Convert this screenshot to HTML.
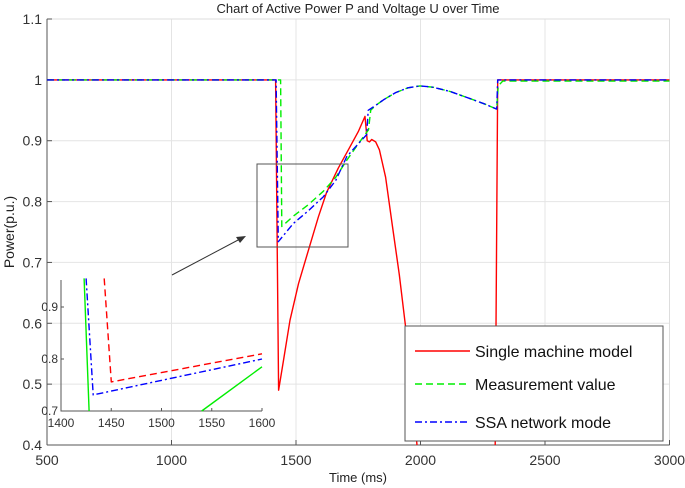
<!DOCTYPE html>
<html><head><meta charset="utf-8"><style>
body{margin:0;background:#fff;}
svg{display:block;font-family:"Liberation Sans",sans-serif;}
</style></head><body>
<svg id="c" width="685" height="488"></svg>
<script>
const xTicks=[500,1000,1500,2000,2500,3000];
const yTicks=[0.4,0.5,0.6,0.7,0.8,0.9,1,1.1];
const redT=[500,1418,1430,1450,1476,1510,1550,1590,1623,1670,1717,1750,1777,1786,1795,1804,1820,1835,1860,1887,1915,1940,1965,1986,1990,2298,2300,2310,3000];
const redV=[1,1,0.49,0.54,0.605,0.665,0.72,0.775,0.815,0.855,0.89,0.915,0.94,0.90,0.898,0.902,0.898,0.885,0.84,0.76,0.68,0.594,0.49,0.40,0.35,0.35,0.4,1,1];
const greenT=[500,1438,1443,1489,1550,1610,1660,1704,1750,1791,1800,1820,1851,1900,1950,1998,2050,2118,2200,2260,2306,2312,2330,3000];
const greenV=[1,1,0.759,0.776,0.795,0.817,0.84,0.868,0.895,0.918,0.95,0.958,0.967,0.979,0.987,0.99,0.988,0.981,0.969,0.96,0.952,0.99,0.998,0.998];
const blueT=[500,1420,1429,1489,1550,1610,1660,1704,1750,1784,1790,1820,1851,1900,1950,1998,2050,2118,2200,2260,2306,2310,3000];
const blueV=[1,1,0.734,0.764,0.785,0.808,0.835,0.874,0.895,0.91,0.95,0.958,0.967,0.979,0.987,0.99,0.988,0.981,0.969,0.96,0.952,1,1];
const insetXTicks=[1400,1450,1500,1550,1600];
const insetYTicks=[0.7,0.8,0.9];
const insRedT=[1443,1450,1600], insRedV=[0.955,0.756,0.81];
const insBlueT=[1425,1432,1600], insBlueV=[0.955,0.731,0.80];
const insGreenT1=[1423,1428], insGreenV1=[0.955,0.70];
const insGreenT2=[1540,1600], insGreenV2=[0.70,0.785];

const svg=document.getElementById('c');
const NS='http://www.w3.org/2000/svg';
function mk(tag,a,parent){const e=document.createElementNS(NS,tag);for(const k in a)e.setAttribute(k,a[k]);(parent||svg).appendChild(e);return e;}
const L=47,R=669.5,T=19,B=445;
const X=t=>L+(t-500)/2500*(R-L);
const Y=v=>B-(v-0.4)/0.7*(B-T);
xTicks.forEach(t=>{const g=mk('line',{x1:X(t),x2:X(t),y1:T,y2:B,stroke:'#e4e4e4','stroke-width':1});

});
yTicks.forEach(v=>{const g=mk('line',{x1:L,x2:R,y1:Y(v),y2:Y(v),stroke:'#e4e4e4','stroke-width':1});

});
const frame=mk('rect',{x:L,y:T,width:R-L,height:B-T,fill:'none',stroke:'#ddd'});


const xa=mk('line',{x1:L,x2:R,y1:B,y2:B,stroke:'#555'});


const ya=mk('line',{x1:L,x2:L,y1:T,y2:B,stroke:'#555'});


xTicks.forEach(t=>{const tx=mk('text',{x:X(t),y:B+20,'text-anchor':'middle','font-size':14,fill:'#333'});tx.textContent=t;


mk('line',{x1:X(t),x2:X(t),y1:B,y2:B-5,stroke:'#555'});});
yTicks.forEach(v=>{const tx=mk('text',{x:L-5,y:Y(v)+5,'text-anchor':'end','font-size':14,fill:'#333'});tx.textContent=v;


mk('line',{x1:L,x2:L+5,y1:Y(v),y2:Y(v),stroke:'#555'});});
function line(ts,vs,xf,yf,stroke,dash,name){const p=ts.map((t,i)=>xf(t).toFixed(1)+','+yf(vs[i]).toFixed(1)).join(' ');
const e=mk('polyline',{points:p,fill:'none',stroke:stroke,'stroke-width':1.4,'stroke-dasharray':dash||'none','stroke-linejoin':'round'});

return e;}
const clip=mk('clipPath',{id:'pc'});mk('rect',{x:L,y:T,width:R-L,height:B-T},clip);
const g=mk('g',{'clip-path':'url(#pc)'});
function lineG(ts,vs,stroke,dash,name){const e=line(ts,vs,X,Y,stroke,dash,name);g.appendChild(e);}
lineG(redT,redV,'#f00','','series-single-machine');
lineG(greenT,greenV,'#0e0','7,4','series-measurement');
lineG(blueT,blueV,'#00f','7,3,2,3','series-ssa-network');
const zr=mk('rect',{x:257,y:164,width:91,height:83,fill:'none',stroke:'#555'});


const ar=mk('line',{x1:172,y1:275,x2:240,y2:239,stroke:'#333'});


mk('polygon',{points:'246,236 236,237 240,243',fill:'#333'});
const IL=61,IR=262,IT=280,IB=411;
const IX=t=>IL+(t-1400)/200*(IR-IL);
const IY=v=>IB-(v-0.7)/0.1*52;
const ia=mk('polyline',{points:`${IL},${IT} ${IL},${IB} ${IR},${IB}`,fill:'none',stroke:'#555'});


insetXTicks.forEach(t=>{const tx=mk('text',{x:IX(t),y:IB+16,'text-anchor':'middle','font-size':12,fill:'#333'});tx.textContent=t;


mk('line',{x1:IX(t),x2:IX(t),y1:IB,y2:IB-3,stroke:'#555'});});
insetYTicks.forEach(v=>{const tx=mk('text',{x:IL-3,y:IY(v)+4,'text-anchor':'end','font-size':12,fill:'#333'});tx.textContent=v;


mk('line',{x1:IL,x2:IL+3,y1:IY(v),y2:IY(v),stroke:'#555'});});
line(insRedT,insRedV,IX,IY,'#f00','7,4','inset-red');
line(insBlueT,insBlueV,IX,IY,'#00f','7,3,2,3','inset-blue');
line(insGreenT1,insGreenV1,IX,IY,'#0e0','','inset-green');
line(insGreenT2,insGreenV2,IX,IY,'#0e0','','inset-green-2');
const lg=mk('g',{});


mk('rect',{x:405,y:326,width:258,height:115,fill:'#fff',stroke:'#555'},lg);
[['Single machine model','#f00',''],['Measurement value','#0e0','7,4'],['SSA network mode','#00f','7,3,2,3']].forEach((d,i)=>{
const y=[351,384,422][i];
mk('line',{x1:415,x2:470,y1:y,y2:y,stroke:d[1],'stroke-width':1.4,'stroke-dasharray':d[2]||'none'},lg);
const tx=mk('text',{x:475,y:y+6,'font-size':16,fill:'#111'},lg);tx.textContent=d[0];

});
const tt=mk('text',{x:358,y:13,'text-anchor':'middle','font-size':13,fill:'#222'});tt.textContent='Chart of Active Power P and Voltage U over Time';


const xt=mk('text',{x:358,y:482,'text-anchor':'middle','font-size':13,fill:'#222'});xt.textContent='Time (ms)';


const yt=mk('text',{x:0,y:0,'text-anchor':'middle','font-size':14,fill:'#222',transform:'translate(14,232) rotate(-90)'});yt.textContent='Power(p.u.)';


</script>
</body></html>
